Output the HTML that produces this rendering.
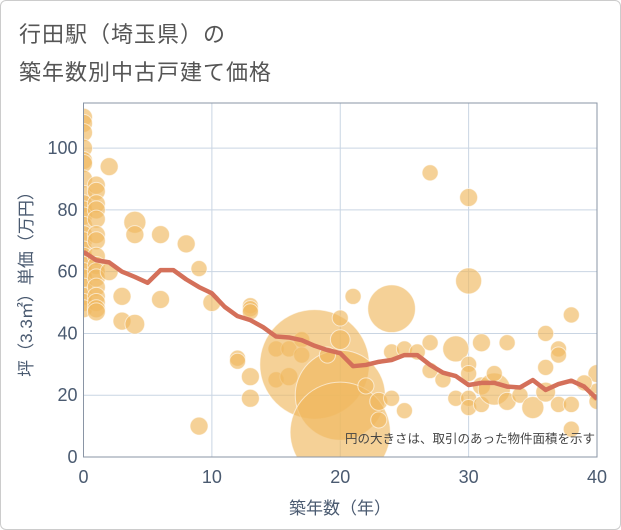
<!DOCTYPE html>
<html><head><meta charset="utf-8"><style>
body{margin:0;background:#fff;font-family:"Liberation Sans","Noto Sans CJK JP",sans-serif}
#wrap{position:relative;width:619px;height:528px;border:1px solid #ccc;border-radius:6px;overflow:hidden;background:#fff}
.title{position:absolute;left:18px;font-size:22px;color:#555;letter-spacing:1px}
</style></head><body>
<div id="wrap">
<div class="title" style="top:16px">行田駅（埼玉県）の</div>
<div class="title" style="top:54px">築年数別中古戸建て価格</div>
<svg id="chart" width="621" height="530" style="position:absolute;left:-1px;top:-1px"></svg>
</div>
<script>
const lineX=[0,1,2,3,4,5,6,7,8,9,10,11,12,13,14,15,16,17,18,19,20,21,22,23,24,25,26,27,28,29,30,31,32,33,34,35,36,37,38,39,40];
const lineY=[66.4,63.7,63,60,58.3,56.4,60.5,60.5,57.5,55,53,48.6,45.6,44.3,42,39,38.7,37.8,36,34.6,33.6,29.4,29.8,30.8,31.4,33,33,29.8,27.3,26.2,23.3,24,24,22.8,22.5,24.9,21.7,23.6,24.7,22.8,18.8];
const bubX=[0,0,0,0,0,0,0,0,0,0,0,0,0,0,0,0,0,0,0,0,0,0,0,1,1,1,1,1,1,1,1,1,1,1,1,1,1,1,1,2,2,3,3,4,4,4,6,6,8,9,9,10,13,13,13,12,12,13,13,15,15,16,16,17,17,18,20,20,19,20,20,21,22,23,23,24,24,25,24,25,26,27,27,28,29,29,30,27,30,30,30,30,30,31,31,31,32,32,33,33,34,35,36,36,37,37,38,36,37,38,38,40,40,40,39];
const bubY=[110,108,105,100,96,95,90,85,82,80,78,75,72,70,67,65,62,60,58,55,52,50,48,88,86,82,80,77,72,70,65,62,60,58,55,52,50,48,47,94,60,52,44,76,72,43,72,51,69,61,10,50,49,48,47,32,31,26,19,35,25,35,26,38,33,30,20,8,33,38,45,52,23,18,12,48,34,35,19,15,34,37,28,25,35,19,84,92,57,30,27,19,16,37,23,17,22,27,37,18,20,16,40,29,35,33,46,21,17,17,9,27,21,18,24];
const bubArea=[1,1,1,1,1,1,1,1,1,1,1,1,1,1,1,1,1,1,1,1,1,1,1,1,1,1,1,1,1,1,1,1,1,1,1,1,1,1,1,1,1,1,1,1.5,1,1.2,1,1,1,0.8,1,1,0.8,0.8,0.8,0.8,0.8,1,1,0.8,0.8,0.8,1,0.8,0.8,37,25,31,0.8,1.2,0.8,0.8,0.8,1,0.8,7,0.8,0.8,0.8,0.8,0.8,0.8,0.8,0.8,2.1,0.8,1,0.8,2.1,0.8,0.8,0.8,0.8,1,1,0.8,3.2,0.8,0.8,1,0.8,1.5,0.8,0.8,0.8,0.8,0.8,1.2,0.8,0.8,0.8,1,1,0.8,0.8];
const xTicks=[0,10,20,30,40];
const yTicks=[0,20,40,60,80,100];
const NS='http://www.w3.org/2000/svg';
const svg=document.getElementById('chart');
const L=83.5,R=597,T=103,B=457,XMAX=40,YMAX=114.6;
const sx=v=>L+v/XMAX*(R-L), sy=v=>B-v/YMAX*(B-T);
function mk(t,a,p){const e=document.createElementNS(NS,t);for(const k in a)e.setAttribute(k,a[k]);(p||svg).appendChild(e);return e;}
const clip=mk('clipPath',{id:'pc'});mk('rect',{x:L,y:T,width:R-L,height:B-T},clip);
xTicks.forEach(v=>{const g=mk('line',{x1:sx(v),x2:sx(v),y1:T,y2:B,stroke:'#c9d5e3','stroke-width':1});

const t=mk('text',{x:sx(v),y:B+26,'text-anchor':'middle','font-size':18,fill:'#4a5a70'});t.textContent=v;
});
yTicks.forEach(v=>{const g=mk('line',{x1:L,x2:R,y1:sy(v),y2:sy(v),stroke:'#c9d5e3','stroke-width':1});

const t=mk('text',{x:L-6,y:sy(v)+6,'text-anchor':'end','font-size':18,fill:'#4a5a70'});t.textContent=v;
});
const bg=mk('g',{'clip-path':'url(#pc)'});

bubX.forEach((x,i)=>{const c=mk('circle',{cx:sx(x),cy:sy(bubY[i]),r:9*Math.sqrt(bubArea[i]),fill:'#f0b860','fill-opacity':0.65,stroke:'#fff','stroke-opacity':0.6,'stroke-width':1},bg);
});
const ln=mk('polyline',{points:lineX.map((x,i)=>sx(x)+','+sy(lineY[i])).join(' '),fill:'none',stroke:'#d4705a','stroke-width':4.5,'stroke-linejoin':'round','clip-path':'url(#pc)'});

const bx=mk('rect',{x:L,y:T,width:R-L,height:B-T,fill:'none',stroke:'#8a95a5','stroke-width':1});

const note=mk('text',{x:R-2,y:443,'text-anchor':'end','font-size':12.5,fill:'#444'});note.textContent='円の大きさは、取引のあった物件面積を示す';

const xt=mk('text',{x:340,y:514,'text-anchor':'middle','font-size':17,fill:'#4a5a70'});xt.textContent='築年数（年）';

const yt=mk('text',{x:0,y:0,'text-anchor':'middle','font-size':17,fill:'#4a5a70',transform:'translate(32,280) rotate(-90)'});yt.textContent='坪（3.3㎡）単価（万円）';

</script>
</body></html>
